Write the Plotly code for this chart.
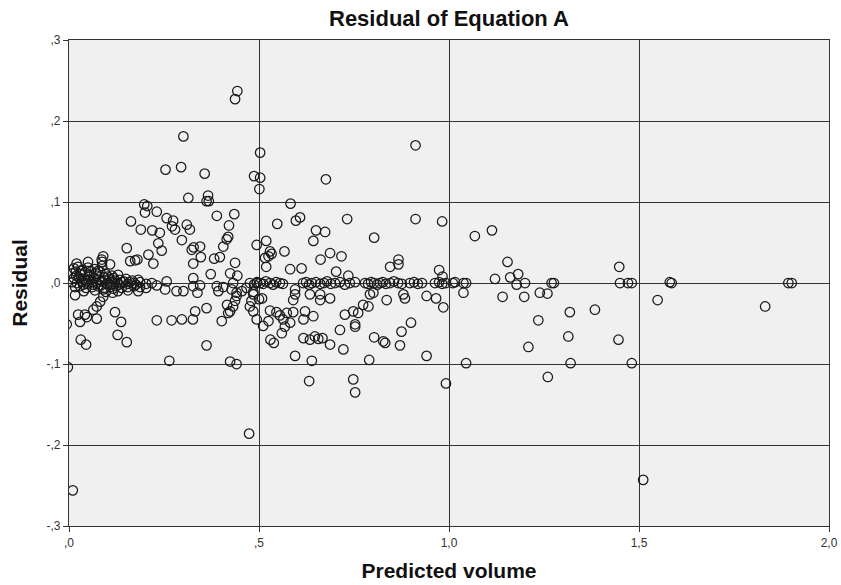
import plotly.graph_objects as go

# ---- data: (predicted volume, residual) ----
pts_upper = [
    (0.443, 0.237), (0.437, 0.227), (0.301, 0.181), (0.254, 0.140), (0.295, 0.143),
    (0.357, 0.135), (0.503, 0.161), (0.487, 0.132), (0.503, 0.130), (0.501, 0.116),
    (0.676, 0.128), (0.912, 0.170), (0.314, 0.105), (0.366, 0.108), (0.368, 0.101),
    (0.362, 0.101), (0.198, 0.097), (0.206, 0.095), (0.200, 0.087), (0.231, 0.088),
    (0.583, 0.098), (0.389, 0.083), (0.435, 0.085), (0.163, 0.076), (0.189, 0.066),
    (0.219, 0.065), (0.239, 0.062), (0.257, 0.080), (0.274, 0.077), (0.271, 0.070),
    (0.279, 0.066), (0.310, 0.072), (0.318, 0.066), (0.421, 0.071), (0.415, 0.054),
    (0.419, 0.057), (0.548, 0.073), (0.597, 0.077), (0.608, 0.081), (0.732, 0.079),
    (0.912, 0.079), (0.982, 0.076), (1.068, 0.058), (1.113, 0.065), (0.650, 0.065),
    (0.674, 0.063), (0.643, 0.052), (0.803, 0.056), (0.297, 0.053), (0.494, 0.047),
    (0.519, 0.052),
]

pts_mid_pos = [
    (0.235, 0.049), (0.244, 0.040), (0.152, 0.043), (0.209, 0.035), (0.222, 0.024),
    (0.323, 0.041), (0.328, 0.044), (0.345, 0.045), (0.347, 0.032), (0.406, 0.045),
    (0.397, 0.032), (0.382, 0.030), (0.327, 0.024), (0.437, 0.025), (0.090, 0.033),
    (0.086, 0.029), (0.161, 0.027), (0.174, 0.028), (0.180, 0.029), (0.373, 0.011),
    (0.424, 0.012), (0.443, 0.009), (0.327, 0.006), (0.529, 0.039), (0.533, 0.036),
    (0.525, 0.033), (0.516, 0.031), (0.519, 0.020), (0.567, 0.039), (0.687, 0.037),
    (0.662, 0.029), (0.717, 0.033), (0.845, 0.020), (0.867, 0.029), (0.867, 0.023),
    (0.974, 0.016), (0.983, 0.008), (0.582, 0.017), (0.612, 0.018), (0.703, 0.014),
    (0.735, 0.009), (1.154, 0.026), (1.121, 0.005), (1.161, 0.007), (1.182, 0.011),
    (1.448, 0.020),
]

pts_right = [
    (1.178, -0.002), (1.200, 0.000), (1.010, 0.000), (1.038, 0.000), (1.038, -0.012),
    (1.141, -0.017), (1.198, -0.017), (1.239, -0.012), (1.259, -0.013), (1.270, 0.000),
    (1.276, 0.000), (1.318, -0.036), (1.384, -0.033), (1.235, -0.046), (1.314, -0.066),
    (1.446, -0.070), (1.209, -0.079), (1.045, -0.099), (1.320, -0.099), (1.481, -0.099),
    (1.260, -0.116), (1.450, 0.000), (1.471, 0.000), (1.481, 0.000), (1.586, 0.000),
    (1.581, 0.001), (1.549, -0.021), (1.832, -0.029), (1.893, 0.000), (1.902, 0.000),
    (1.511, -0.243),
]

pts_negative = [
    (0.474, -0.186), (0.010, -0.256), (-0.003, -0.104), (-0.006, -0.051),
    (0.016, -0.015), (0.090, -0.017), (0.082, -0.023), (0.073, -0.029), (0.064, -0.033),
    (0.115, -0.012), (0.024, -0.039), (0.029, -0.048), (0.042, -0.039), (0.047, -0.042),
    (0.073, -0.044), (0.121, -0.036), (0.137, -0.048), (0.231, -0.046), (0.270, -0.046),
    (0.297, -0.045), (0.326, -0.045), (0.332, -0.035), (0.362, -0.031), (0.416, -0.027),
    (0.437, -0.022), (0.432, -0.029), (0.424, -0.035), (0.419, -0.037), (0.441, -0.016),
    (0.402, -0.047), (0.485, -0.011), (0.480, -0.022), (0.500, -0.020), (0.508, -0.019),
    (0.476, -0.029), (0.485, -0.035), (0.494, -0.045), (0.031, -0.070), (0.045, -0.076),
    (0.128, -0.064), (0.152, -0.073), (0.362, -0.077), (0.264, -0.096), (0.424, -0.097),
    (0.441, -0.100), (0.511, -0.053), (0.530, -0.070), (0.539, -0.074), (0.529, -0.034),
    (0.546, -0.036), (0.573, -0.037), (0.555, -0.040), (0.568, -0.054), (0.525, -0.047),
    (0.564, -0.045), (0.590, -0.036), (0.582, -0.049), (0.560, -0.062), (0.595, -0.008),
    (0.595, -0.014), (0.590, -0.021), (0.621, -0.035), (0.643, -0.041), (0.617, -0.045),
    (0.634, -0.014), (0.661, -0.014), (0.661, -0.021), (0.687, -0.019), (0.617, -0.068),
    (0.634, -0.070), (0.647, -0.066), (0.656, -0.069), (0.667, -0.068), (0.687, -0.076),
    (0.595, -0.090), (0.639, -0.096), (0.632, -0.121), (0.726, -0.039), (0.748, -0.035),
    (0.761, -0.037), (0.774, -0.027), (0.788, -0.029), (0.792, -0.014), (0.801, -0.012),
    (0.713, -0.058), (0.753, -0.054), (0.753, -0.051), (0.722, -0.082), (0.748, -0.119),
    (0.753, -0.135), (0.790, -0.095), (0.803, -0.067), (0.827, -0.072), (0.832, -0.074),
    (0.836, -0.021), (0.880, -0.014), (0.884, -0.019), (0.875, -0.060), (0.871, -0.077),
    (0.900, -0.049), (0.941, -0.016), (0.966, -0.019), (0.985, -0.030), (0.941, -0.090),
    (0.992, -0.124), (0.301, -0.010), (0.231, -0.003), (0.257, 0.002), (0.253, -0.008),
    (0.283, -0.010), (0.327, -0.004), (0.345, -0.003), (0.338, -0.012), (0.389, -0.004),
    (0.406, -0.005), (0.393, -0.010), (0.432, 0.000), (0.428, -0.008), (0.441, -0.012),
    (0.455, -0.010), (0.467, -0.006), (0.494, 0.000), (0.485, -0.014),
]

pts_zero_line = [
    (0.476, 0.000), (0.487, -0.002), (0.495, 0.001), (0.503, 0.000), (0.511, -0.001),
    (0.518, 0.002), (0.529, 0.000), (0.537, -0.002), (0.545, 0.001), (0.555, 0.000),
    (0.563, -0.001), (0.616, 0.000), (0.624, 0.001), (0.632, -0.002), (0.639, 0.000),
    (0.650, 0.001), (0.661, -0.001), (0.671, 0.000), (0.679, 0.002), (0.689, -0.001),
    (0.700, 0.000), (0.713, 0.001), (0.726, -0.002), (0.739, 0.000), (0.753, 0.001),
    (0.779, 0.000), (0.787, -0.001), (0.795, 0.001), (0.803, 0.000), (0.811, -0.002),
    (0.818, 0.000), (0.826, 0.001), (0.834, -0.001), (0.845, 0.000), (0.855, 0.002),
    (0.866, 0.000), (0.876, -0.001), (0.897, 0.000), (0.908, 0.001), (0.918, -0.001),
    (0.929, 0.000), (0.963, 0.000), (0.974, 0.001), (0.982, -0.001), (0.992, 0.000),
    (1.016, 0.001), (1.045, 0.000),
]

pts_cluster = [
    (0.013, 0.018), (0.024, 0.020), (0.034, 0.016), (0.050, 0.019), (0.068, 0.017),
    (0.087, 0.021), (0.008, 0.012), (0.018, 0.014), (0.029, 0.011), (0.042, 0.013),
    (0.055, 0.010), (0.071, 0.012), (0.082, 0.014), (0.097, 0.011), (0.113, 0.009),
    (0.129, 0.010), (0.013, 0.006), (0.026, 0.007), (0.039, 0.005), (0.053, 0.008),
    (0.066, 0.006), (0.079, 0.004), (0.092, 0.007), (0.105, 0.005), (0.118, 0.006),
    (0.134, 0.004), (0.150, 0.005), (0.166, 0.003), (0.182, 0.004), (0.008, 0.001),
    (0.021, 0.000), (0.034, 0.002), (0.047, -0.001), (0.061, 0.001), (0.074, 0.000),
    (0.087, 0.002), (0.100, -0.001), (0.113, 0.001), (0.126, 0.000), (0.139, 0.001),
    (0.155, -0.001), (0.171, 0.000), (0.187, 0.001), (0.203, -0.001), (0.218, 0.000),
    (0.016, -0.005), (0.029, -0.004), (0.045, -0.006), (0.061, -0.005), (0.076, -0.004),
    (0.092, -0.006), (0.108, -0.005), (0.124, -0.004), (0.139, -0.006), (0.155, -0.005),
    (0.171, -0.004), (0.187, -0.005), (0.203, -0.006), (0.039, -0.010), (0.068, -0.009),
    (0.097, -0.011), (0.129, -0.010), (0.155, -0.009), (0.182, -0.010), (0.087, 0.026),
    (0.108, 0.023), (0.050, 0.026), (0.020, 0.024),
    (0.019, 0.009), (0.031, 0.015), (0.045, 0.003), (0.058, 0.014), (0.063, -0.002),
    (0.072, 0.009), (0.084, -0.003), (0.095, 0.003), (0.102, 0.008), (0.110, -0.002),
    (0.121, 0.003), (0.131, -0.002), (0.144, 0.002), (0.160, 0.001), (0.176, -0.002),
    (0.037, -0.002), (0.052, 0.004), (0.077, 0.015), (0.090, -0.008), (0.116, -0.007),
]

x_ticks = [0, 0.5, 1.0, 1.5, 2.0]
x_tick_text = [",0", ",5", "1,0", "1,5", "2,0"]
y_ticks = [-0.3, -0.2, -0.1, 0.0, 0.1, 0.2, 0.3]
y_tick_text = ["-,3", "-,2", "-,1", ",0", ",1", ",2", ",3"]

all_pts = pts_upper + pts_mid_pos + pts_right + pts_negative + pts_zero_line + pts_cluster
xs = [p[0] for p in all_pts]
ys = [p[1] for p in all_pts]

FONT = "Liberation Sans, Arial, sans-serif"
GRID = "#333333"

fig = go.Figure()
fig.add_trace(go.Scatter(
    x=xs, y=ys, mode="markers", showlegend=False, cliponaxis=True,
    marker=dict(symbol="circle-open", size=9.5, color="#1a1a1a", line=dict(width=1.25)),
))

axis_common = dict(
    showgrid=True, gridcolor=GRID, gridwidth=1.3,
    showline=True, linecolor=GRID, linewidth=1.3, mirror=True,
    ticks="outside", ticklen=5, tickcolor=GRID, tickwidth=1,
    zeroline=False, tickfont=dict(family=FONT, size=12, color="#333333"),
)

fig.update_layout(
    width=841, height=585,
    paper_bgcolor="white", plot_bgcolor="#F0F0F0",
    margin=dict(l=69, r=12, t=40, b=59, autoexpand=False),
    font=dict(family=FONT, color="#111111"),
    title=dict(text="<b>Residual of Equation A</b>", x=0.5, xref="paper",
               y=1 - 18 / 585, yref="container", yanchor="middle",
               font=dict(family=FONT, size=22, color="#111111")),
    xaxis=dict(range=[0, 2], tickvals=x_ticks, ticktext=x_tick_text,
               title=dict(text="<b>Predicted volume</b>", standoff=14,
                          font=dict(family=FONT, size=21, color="#111111")),
               **axis_common),
    yaxis=dict(range=[-0.3, 0.3], tickvals=y_ticks, ticktext=y_tick_text,
               title=dict(text="<b>Residual</b>", standoff=13,
                          font=dict(family=FONT, size=21, color="#111111")),
               **axis_common),
)

fig.write_html("out.html")
